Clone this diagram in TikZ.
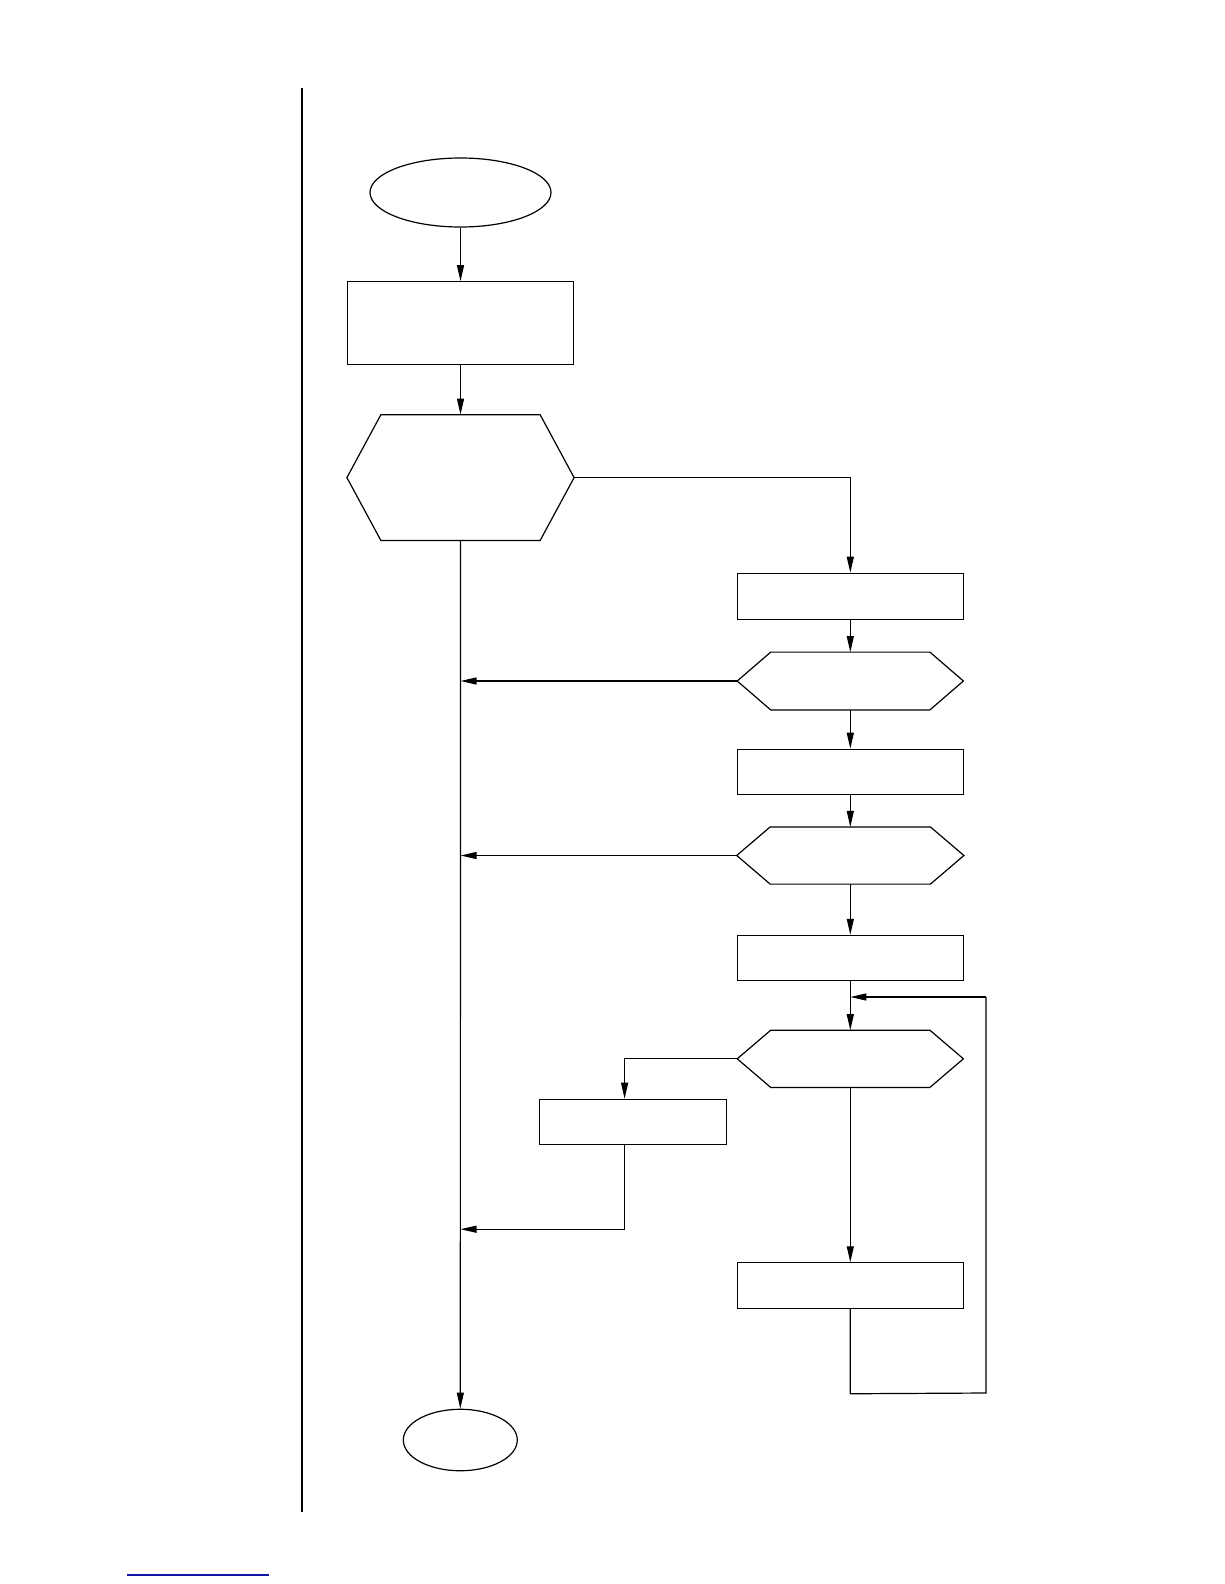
\documentclass[tikz,border=0pt]{standalone}
\usetikzlibrary{arrows.meta,shapes.geometric,calc}
\definecolor{linkblue}{RGB}{20,20,170}
\tikzset{
  every path/.style={line width=1.2pt},
  oval/.style={draw,ellipse,inner sep=0pt,line width=1.2pt},
  boxnode/.style={draw,rectangle,inner sep=0pt,line width=1.2pt,minimum width=226pt},
  hexanchor/.style={rectangle,inner sep=0pt,draw=none},
  flow/.style={line width=1.2pt,-{Triangle[length=16pt,width=7pt]}},
  plain/.style={line width=1.2pt},
}
\newcommand\hexshape[2]{%
  \draw[line width=1.2pt] ([xshift=#2]#1.north west) -- ([xshift=-#2]#1.north east) -- (#1.east)
    -- ([xshift=-#2]#1.south east) -- ([xshift=#2]#1.south west) -- (#1.west) -- cycle;}
\begin{document}
\begin{tikzpicture}[x=1pt,y=-1pt]
\useasboundingbox (0,0) rectangle (1224,1584);
% page rule and footnote line
\coordinate (ruletop) at (302,88);
\coordinate (rulebot) at (302,1512);
\draw[line width=1.2pt] (ruletop) -- (rulebot);
\coordinate (fnA) at (127,1575);
\coordinate (fnB) at (269,1575);
\draw[linkblue,line width=1.2pt] (fnA) -- (fnB);
% nodes
\node[oval,minimum width=181pt,minimum height=69pt] (start) at (460.5,192.5) {};
\node[boxnode,minimum height=83pt] (box1) at (460.5,323.3) {};
\node[hexanchor,minimum width=226pt,minimum height=124.7pt] (hex1) at (460.5,477.6) {};
\hexshape{hex1}{34pt}
\node[boxnode,minimum height=46pt] (box2) at (850.3,596.3) {};
\node[hexanchor,minimum width=225pt,minimum height=56.6pt] (hex2) at (850.3,681) {};
\hexshape{hex2}{33.5pt}
\node[boxnode,minimum height=45pt] (box3) at (850.3,771.8) {};
\node[hexanchor,minimum width=226pt,minimum height=56pt] (hex3) at (850.3,855.5) {};
\hexshape{hex3}{33.5pt}
\node[boxnode,minimum height=45.3pt] (box4) at (850.3,958) {};
\node[hexanchor,minimum width=225pt,minimum height=56pt] (hex4) at (850.3,1058.8) {};
\hexshape{hex4}{33.5pt}
\node[boxnode,minimum width=187pt,minimum height=45pt] (box5) at (633,1121.8) {};
\node[boxnode,minimum height=45.3pt] (box6) at (850.3,1285.5) {};
\node[oval,minimum width=114pt,minimum height=61.5pt] (end) at (460.3,1440) {};
% helper coordinates
\coordinate (b5in) at ([xshift=-8.4pt]box5.north);
\coordinate (b5out) at ([xshift=-8.4pt]box5.south);
\coordinate (b5turn) at ($(b5out)+(0,84.3)$);
\coordinate (loopA) at ($(box6.south)+(0,85)$);
\coordinate (loopB) at (986,1393);
\coordinate (loopC) at (986,997);
\coordinate (loopD) at (box4.south |- loopC);
% connectors
\draw[flow] (start) -- (box1);
\draw[flow] (box1) -- (hex1.north);
\draw[flow] (hex1.south) -- (end);
\draw[flow] (hex1.east) -| (box2.north);
\draw[flow] (box2) -- (hex2.north);
\draw[flow] (hex2.west) -- (hex1.south |- hex2.west);
\draw[flow] (hex2.south) -- (box3);
\draw[flow] (box3) -- (hex3.north);
\draw[flow] (hex3.west) -- (hex1.south |- hex3.west);
\draw[flow] (hex3.south) -- (box4);
\draw[flow] (box4) -- (hex4.north);
\draw[flow] (hex4.west) -| (b5in);
\draw[flow] (b5out) -- (b5turn) -- (hex1.south |- b5turn);
\draw[flow] (hex4.south) -- (box6);
\draw[plain] (box6.south) -- (loopA) -- (loopB) -- (loopC);
\draw[flow] (loopC) -- (loopD);
\end{tikzpicture}
\end{document}
